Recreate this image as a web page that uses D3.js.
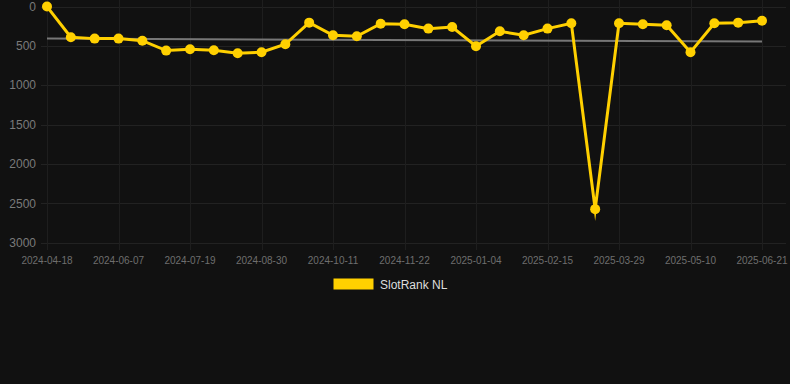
<!DOCTYPE html>
<html>
<head>
<meta charset="utf-8">
<script src="https://cdn.jsdelivr.net/npm/d3@7"></script>
<style>
  html, body { margin: 0; padding: 0; background: #111111; }
  svg { display: block; font-family: "Liberation Sans", Arial, Helvetica, sans-serif; }
</style>
</head>
<body>
<div id="chart"></div>
<script>
// data
const dates = [
  "2024-04-18", "2024-05-10", "2024-05-24", "2024-06-07", "2024-06-21", "2024-07-05",
  "2024-07-19", "2024-08-02", "2024-08-16", "2024-08-30", "2024-09-13", "2024-09-27",
  "2024-10-11", "2024-10-25", "2024-11-08", "2024-11-22", "2024-12-06", "2024-12-20",
  "2025-01-04", "2025-01-18", "2025-02-01", "2025-02-15", "2025-03-01", "2025-03-15",
  "2025-03-29", "2025-04-12", "2025-04-26", "2025-05-10", "2025-05-24", "2025-06-07",
  "2025-06-21"
];
const rankValues = [
  1, 391, 408, 408, 434, 560,
  543, 556, 594, 581, 480, 205,
  366, 378, 218, 226, 281, 260,
  505, 315, 366, 281, 213, 2574,
  213, 226, 239, 581, 213, 205,
  180
];
const trendValues = [408, 446];
const yTicks = [0, 500, 1000, 1500, 2000, 2500, 3000];
const seriesName = "SlotRank NL";

const width = 790, height = 384;
const plot = { left: 47, right: 762, top: 6.5, bottom: 242.7 };

const svg = d3.select("#chart").append("svg")
    .attr("width", width)
    .attr("height", height);

const x = d3.scalePoint()
    .domain(dates)
    .range([plot.left, plot.right]);

const y = d3.scaleLinear()
    .domain([0, 3000])
    .range([plot.top, plot.bottom]);

// grid
const shownDates = dates.filter((d, i) => i % 3 === 0);

svg.append("g")
    .selectAll("line")
    .data(yTicks)
    .join("line")
    .attr("x1", 41)
    .attr("x2", 786)
    .attr("y1", d => Math.round(y(d)) + 0.5)
    .attr("y2", d => Math.round(y(d)) + 0.5)
    .attr("stroke", "#222222")
    .attr("stroke-width", 1);

svg.append("g")
    .selectAll("line")
    .data(shownDates)
    .join("line")
    .attr("x1", d => Math.round(x(d)) + 0.5)
    .attr("x2", d => Math.round(x(d)) + 0.5)
    .attr("y1", 0)
    .attr("y2", 250)
    .attr("stroke", "#1e1e1e")
    .attr("stroke-width", 1);

// y axis labels
svg.append("g")
    .selectAll("text")
    .data(yTicks)
    .join("text")
    .attr("x", 36)
    .attr("y", d => y(d))
    .attr("dy", "0.35em")
    .attr("text-anchor", "end")
    .attr("fill", "#7a7a7a")
    .style("font-size", "12px")
    .text(d => d);

// x axis labels
svg.append("g")
    .selectAll("text")
    .data(shownDates)
    .join("text")
    .attr("x", d => x(d))
    .attr("y", 260)
    .attr("dy", "0.35em")
    .attr("text-anchor", "middle")
    .attr("fill", "#6e6e6e")
    .style("font-size", "10px")
    .text(d => d);

// trend line
svg.append("line")
    .attr("x1", x(dates[0]))
    .attr("x2", x(dates[dates.length - 1]))
    .attr("y1", y(trendValues[0]))
    .attr("y2", y(trendValues[1]))
    .attr("stroke", "#777777")
    .attr("stroke-width", 2);

// series line
const line = d3.line()
    .x((d, i) => x(dates[i]))
    .y(d => y(d));

svg.append("path")
    .datum(rankValues)
    .attr("d", line)
    .attr("fill", "none")
    .attr("stroke", "#ffd000")
    .attr("stroke-width", 3)
    .attr("stroke-linejoin", "miter")
    .attr("stroke-miterlimit", 10);

svg.append("g")
    .selectAll("circle")
    .data(rankValues)
    .join("circle")
    .attr("cx", (d, i) => x(dates[i]))
    .attr("cy", d => y(d))
    .attr("r", 5)
    .attr("fill", "#ffd000");

// legend
const legend = svg.append("g");
legend.append("rect")
    .attr("x", 333.5)
    .attr("y", 278.5)
    .attr("width", 40)
    .attr("height", 11)
    .attr("fill", "#ffd000");
legend.append("text")
    .attr("x", 380)
    .attr("y", 284.5)
    .attr("dy", "0.35em")
    .attr("fill", "#dddddd")
    .style("font-size", "12px")
    .text(seriesName);
</script>
</body>
</html>
